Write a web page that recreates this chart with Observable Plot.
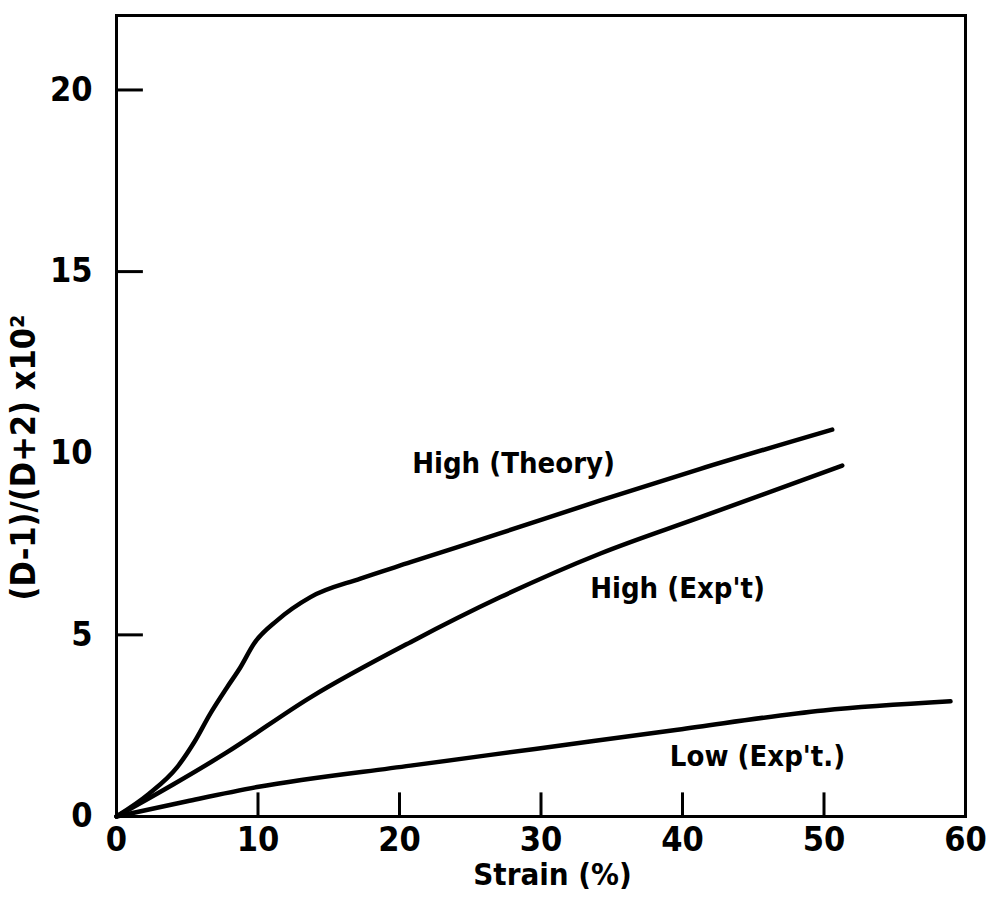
<!DOCTYPE html>
<html>
<head>
<meta charset="utf-8">
<script src="https://cdn.jsdelivr.net/npm/d3@7"></script>
<script src="https://cdn.jsdelivr.net/npm/@observablehq/plot@0.6"></script>
<style>
  html, body { margin: 0; padding: 0; background: #fff; }
  #chart svg { display: block; }
</style>
</head>
<body>
<div id="chart"></div>
<script>
// ---- data ----
const theoryStrain = [0, 2.28, 4.29, 5.5, 6.64, 7.82, 8.76, 9.70, 11.36, 13.71, 17.24, 20.78, 27.14, 34.20, 41.27, 50.58];
const theoryValue  = [0, 0.62, 1.36, 2.05, 2.84, 3.56, 4.11, 4.75, 5.40, 6.04, 6.55, 7.00, 7.80, 8.70, 9.57, 10.65];

const highExpStrain = [0, 4.0, 7.82, 13.71, 20.78, 27.14, 34.20, 41.27, 51.29];
const highExpValue  = [0, 0.88, 1.77, 3.28, 4.80, 6.04, 7.24, 8.24, 9.66];

const lowExpStrain = [0, 5.0, 9.94, 20.78, 29.58, 39.65, 49.96, 58.94];
const lowExpValue  = [0, 0.42, 0.81, 1.40, 1.86, 2.39, 2.92, 3.17];

const seriesNames = ["High (Theory)", "High (Exp't)", "Low (Exp't.)"];
const labelStrain = [28.06, 39.65, 45.3];
const labelValue  = [9.72, 6.28, 1.65];

const xTickLabels = [0, 10, 20, 30, 40, 50, 60];
const xTickMarks  = [10, 20, 30, 40, 50];
const yTickLabels = [0, 5, 10, 15, 20];
const yTickMarks  = [5, 15, 20];

const xTitle = "Strain (%)";
const yTitle = "(D-1)/(D+2) x10²";

// ---- build table ----
const pairs = [[theoryStrain, theoryValue], [highExpStrain, highExpValue], [lowExpStrain, lowExpValue]];
const rows = pairs.flatMap(([xs, ys], i) => xs.map((x, j) => ({series: seriesNames[i], strain: x, value: ys[j]})));
const labels = seriesNames.map((s, i) => ({text: s, strain: labelStrain[i], value: labelValue[i]}));

const font = "'DejaVu Sans Condensed', 'DejaVu Sans', sans-serif";

const chart = Plot.plot({
  width: 1001,
  height: 904,
  marginLeft: 116,
  marginRight: 36,
  marginTop: 15,
  marginBottom: 88,
  style: {fontFamily: font, background: "#fff", color: "#000"},
  x: {domain: [0, 60]},
  y: {domain: [0, 22.05]},
  marks: [
    Plot.frame({stroke: "#000", strokeWidth: 3}),
    Plot.ruleX(xTickMarks, {x: d => d, y1: 0, y2: 0.65, stroke: "#000", strokeWidth: 3}),
    Plot.ruleY(yTickMarks, {y: d => d, x1: 0, x2: 1.9, stroke: "#000", strokeWidth: 3}),
    Plot.axisX({ticks: xTickLabels, tickSize: 0, tickPadding: 10, fontSize: 34, fontWeight: "bold", label: null}),
    Plot.axisY({ticks: yTickLabels, tickSize: 0, tickPadding: 24, fontSize: 34, fontWeight: "bold", label: null}),
    Plot.line(rows, {x: "strain", y: "value", z: "series", curve: "monotone-x", stroke: "#000", strokeWidth: 4.5, strokeLinecap: "round"}),
    Plot.text(labels, {x: "strain", y: "value", text: "text", fontSize: 29, fontWeight: "bold", fill: "#000"}),
    Plot.text([xTitle], {frameAnchor: "bottom", textAnchor: "middle", dx: 11.5, dy: 68, fontSize: 31, fontWeight: "bold", fill: "#000"}),
    Plot.text([yTitle], {frameAnchor: "left", textAnchor: "middle", dx: -92, dy: 41.5, rotate: -90, fontSize: 34, fontWeight: "bold", fill: "#000"})
  ]
});
document.getElementById("chart").append(chart);
</script>
</body>
</html>
